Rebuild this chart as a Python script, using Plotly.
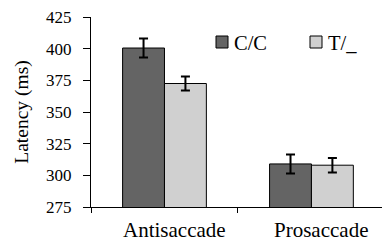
import plotly.graph_objects as go

categories = ["Antisaccade", "Prosaccade"]
series_names = ["C/C", "T/_"]
series_colors = ["#646464", "#d0d0d0"]
cc_values = [400.5, 309.0]
cc_errors = [7.5, 7.5]
t_values = [372.5, 308.0]
t_errors = [5.5, 5.7]
y_ticks = [275, 300, 325, 350, 375, 400, 425]

FONT = "Liberation Serif"
W, H = 382, 241
ML, MR, MT, MB = 91, 0, 17, 34
PW, PH = W - ML - MR, H - MT - MB

fig = go.Figure()
for name, color, vals, errs in zip(series_names, series_colors,
                                   [cc_values, t_values], [cc_errors, t_errors]):
    fig.add_trace(go.Bar(
        x=categories, y=vals, name=name, showlegend=False,
        marker=dict(color=color, line=dict(color="black", width=1)),
        error_y=dict(type="data", array=errs, color="black", thickness=2, width=4.5),
    ))

# category labels (slightly right of category centre, as in the reference)
for cat in categories:
    fig.add_annotation(
        x=cat, xref="x", y=0, yref="paper", yanchor="top", xanchor="center",
        text=cat, showarrow=False, xshift=10, yshift=-9,
        font=dict(family=FONT, size=21, color="black"),
    )

# legend (swatch + label), placed in pixel terms converted to paper fractions
def px_x(px):
    return (px - ML) / PW

def px_y(py):
    return (H - MB - py) / PH

legend_swatch_left = [216, 310]
for name, color, left in zip(series_names, series_colors, legend_swatch_left):
    fig.add_shape(type="rect", xref="paper", yref="paper",
                  x0=px_x(left), x1=px_x(left + 12), y0=px_y(48), y1=px_y(36),
                  fillcolor=color, line=dict(color="black", width=1))
    fig.add_annotation(x=px_x(left + 16), y=px_y(42.5), xref="paper", yref="paper",
                       xanchor="left", yanchor="middle", text=name, showarrow=False,
                       font=dict(family=FONT, size=20.5, color="black"))

fig.update_layout(
    width=W, height=H,
    margin=dict(l=ML, r=MR, t=MT, b=MB),
    paper_bgcolor="white", plot_bgcolor="white",
    barmode="group", bargap=0.43, bargroupgap=0,
    font=dict(family=FONT, color="black"),
    showlegend=False,
    xaxis=dict(
        range=[-0.5, 1.48], showline=True, linecolor="black", linewidth=1,
        ticks="outside", tickson="boundaries", ticklen=5, tickcolor="black",
        showticklabels=False,
        showgrid=False, zeroline=False, automargin=False,
    ),
    yaxis=dict(
        range=[275, 425], tickvals=y_ticks, showline=True, linecolor="black",
        linewidth=1, ticks="outside", ticklen=7, tickcolor="black",
        tickfont=dict(family=FONT, size=17, color="black"),
        ticklabelstandoff=8,
        showgrid=False, zeroline=False, automargin=False,
        title=dict(text="Latency (ms)", font=dict(family=FONT, size=19.5, color="black"), standoff=12),
    ),
)

fig.write_html("out.html", config={"displayModeBar": False},
               post_script="document.body.style.margin='0';")
